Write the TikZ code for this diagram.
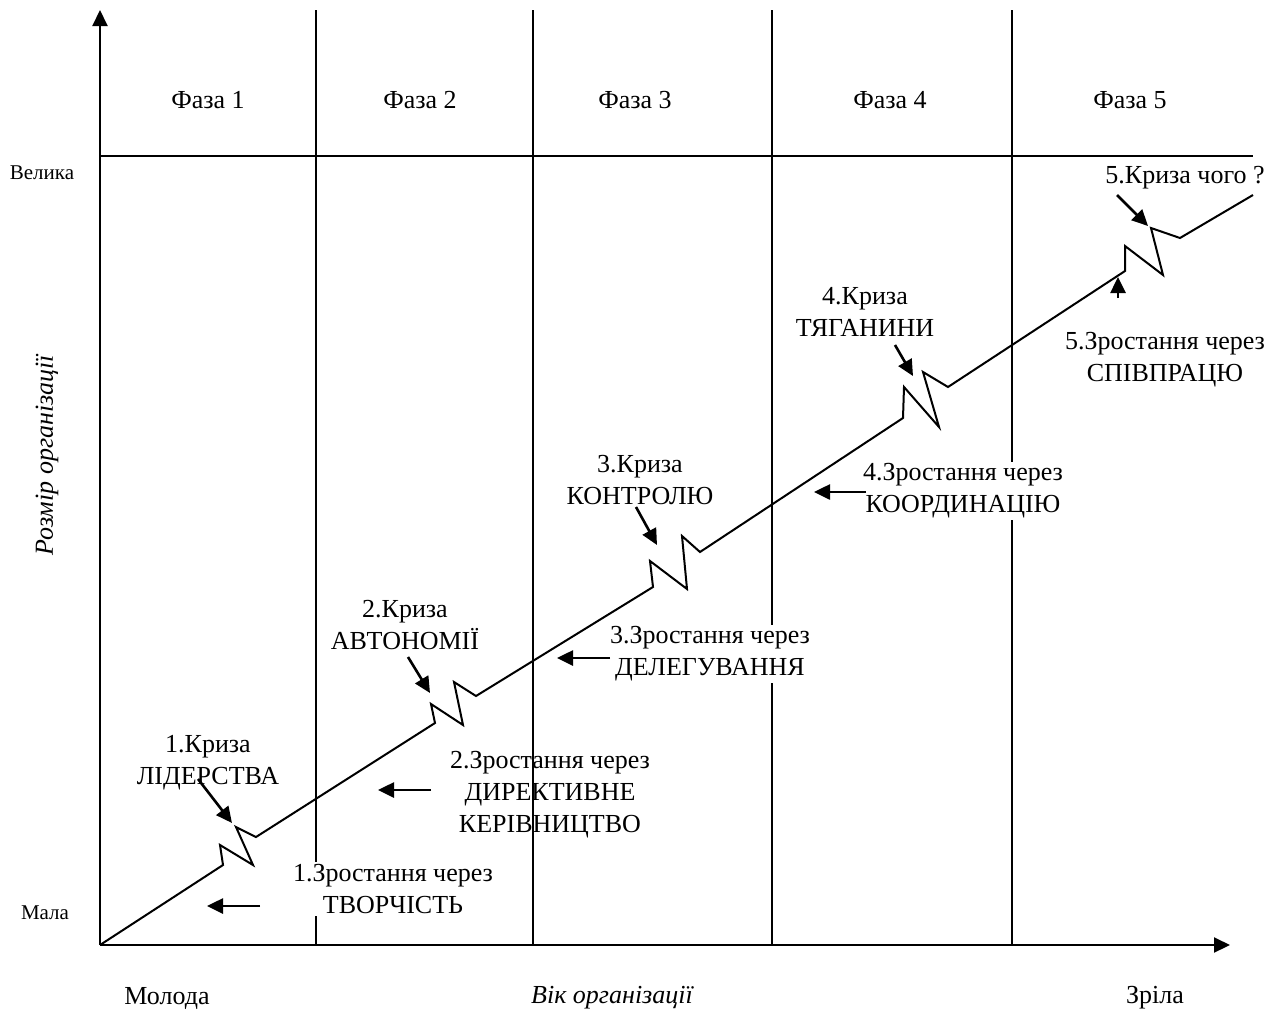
\documentclass[tikz,border=0pt]{standalone}
\usepackage{fontspec}
\setmainfont{Liberation Serif}
\usetikzlibrary{arrows.meta}

\tikzset{
  lbl/.style={font=\fontsize{13}{16}\selectfont, align=center, inner sep=0pt},
  axlbl/.style={font=\fontsize{10.5}{12}\selectfont, inner sep=0pt},
  ptr/.style={line width=1.3pt, -{Triangle[length=8pt,width=7.5pt]}},
  grid/.style={line width=1pt}
}

\begin{document}
\begin{tikzpicture}[x=0.5pt,y=-0.5pt]
\useasboundingbox (0,0) rectangle (1279,1012);
\coordinate (O) at (100,945);
\coordinate (ytop) at (100,10);
\coordinate (xend) at (1230,945);
\draw[grid, -{Triangle[length=8pt,width=7.5pt]}] (O) -- (ytop);
\draw[grid, -{Triangle[length=8pt,width=7.5pt]}] (O) -- (xend);
\draw[grid] (100,156) -- (1253,156);
\draw[grid] (316,10) -- (316,945);
\draw[grid] (533,10) -- (533,945);
\draw[grid] (772,10) -- (772,945);
\draw[grid] (1012,10) -- (1012,945);
\node[lbl] (ph1) at (208,100) {Фаза 1};
\node[lbl] (ph2) at (420,100) {Фаза 2};
\node[lbl] (ph3) at (635,100) {Фаза 3};
\node[lbl] (ph4) at (890,100) {Фаза 4};
\node[lbl] (ph5) at (1130,100) {Фаза 5};
\node[axlbl] (big) at (42,173) {Велика};
\node[axlbl] (small) at (45,913) {Мала};
\node[lbl] (young) at (167,998) {Молода};
\node[lbl, font=\fontsize{13}{16}\selectfont\itshape] (age) at (612,998) {Вік організації};
\node[lbl, font=\fontsize{13}{16}\selectfont\itshape, rotate=90] (size) at (47,455) {Розмір організації};
\node[lbl] (mature) at (1155,998) {Зріла};
\draw[grid] (O) -- (223,865) -- (220,845) -- (253,865) -- (236,827) -- (256,837)
  -- (435,723) -- (431,704) -- (463,725) -- (454,682) -- (476,696)
  -- (653,587) -- (650,561) -- (687,589) -- (682,536) -- (700,552)
  -- (903,418) -- (904,387) -- (939,427) -- (923,372) -- (948,387)
  -- (1125,271) -- (1125,246) -- (1163,275) -- (1151,228) -- (1180,238)
  -- (1253,195);
\node[lbl] (cr1) at (208,763) {1.Криза\\ЛІДЕРСТВА};
\node[lbl] (cr2) at (405,625) {2.Криза\\АВТОНОМІЇ};
\node[lbl] (cr3) at (640,480) {3.Криза\\КОНТРОЛЮ};
\node[lbl] (cr4) at (865,312) {4.Криза\\ТЯГАНИНИ};
\node[lbl] (cr5) at (1185,178) {5.Криза чого ?};
\node[lbl, fill=white, inner sep=1pt] (gr1) at (393,889) {1.Зростання через\\ТВОРЧІСТЬ};
\node[lbl] (gr2) at (550,795) {2.Зростання через\\ДИРЕКТИВНЕ\\КЕРІВНИЦТВО};
\node[lbl, fill=white, inner sep=1pt] (gr3) at (710,654) {3.Зростання через\\ДЕЛЕГУВАННЯ};
\node[lbl, fill=white, inner sep=1pt] (gr4) at (963,491) {4.Зростання через\\КООРДИНАЦІЮ};
\node[lbl] (gr5) at (1165,360) {5.Зростання через\\СПІВПРАЦЮ};
\coordinate (c1a) at (198,779); \coordinate (c1b) at (232,823);
\coordinate (c2a) at (408,657); \coordinate (c2b) at (430,693);
\coordinate (c3a) at (636,507); \coordinate (c3b) at (657,545);
\coordinate (c4a) at (895,345); \coordinate (c4b) at (913,376);
\coordinate (c5a) at (1117,195); \coordinate (c5b) at (1148,226);
\draw[ptr] (c1a) -- (c1b);
\draw[ptr] (c2a) -- (c2b);
\draw[ptr] (c3a) -- (c3b);
\draw[ptr] (c4a) -- (c4b);
\draw[ptr] (c5a) -- (c5b);
\coordinate (g1a) at (260,906); \coordinate (g1b) at (207,906);
\coordinate (g2a) at (431,790); \coordinate (g2b) at (378,790);
\coordinate (g3a) at (610,658); \coordinate (g3b) at (557,658);
\coordinate (g4a) at (866,492); \coordinate (g4b) at (814,492);
\coordinate (g5a) at (1118,298); \coordinate (g5b) at (1118,277);
\draw[ptr] (g1a) -- (g1b);
\draw[ptr] (g2a) -- (g2b);
\draw[ptr] (g3a) -- (g3b);
\draw[ptr] (g4a) -- (g4b);
\draw[ptr] (g5a) -- (g5b);
\end{tikzpicture}
\end{document}
